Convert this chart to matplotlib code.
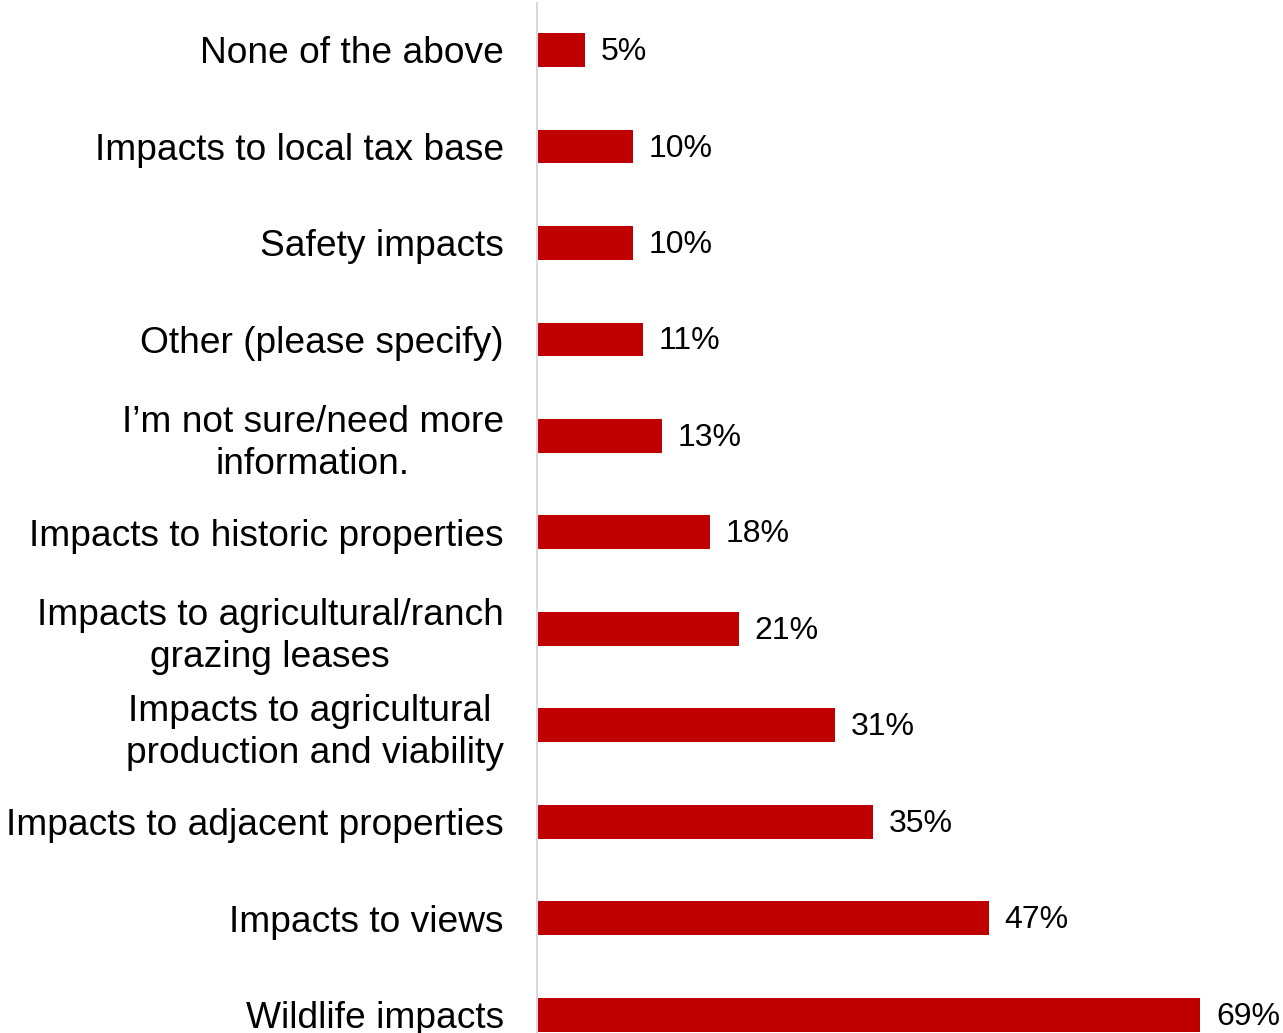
import matplotlib.pyplot as plt

plt.rcParams["font.family"] = ["Liberation Sans", "DejaVu Sans"]

# Responses, listed top to bottom
categories = [
    "None of the above",
    "Impacts to local tax base",
    "Safety impacts",
    "Other (please specify)",
    "I\u2019m not sure/need more\ninformation.",
    "Impacts to historic properties",
    "Impacts to agricultural/ranch\ngrazing leases",
    "Impacts to agricultural \nproduction and viability",
    "Impacts to adjacent properties",
    "Impacts to views",
    "Wildlife impacts",
]
shares = [5, 10, 10, 11, 13, 18, 21, 31, 35, 47, 69]

BAR_COLOR = "#C00000"
LABEL_SIZE = 26.7
VALUE_SIZE = 23

fig = plt.figure(figsize=(12.83, 10.33), dpi=100)
ax = fig.add_axes([537 / 1283, 0, 746 / 1283, 1 - 3 / 1033])

pos = list(range(len(categories)))
ax.barh(pos, shares, height=0.35, color=BAR_COLOR)

for y, v in zip(pos, shares):
    ax.annotate(f"{v}%", (v, y), xytext=(11.5, -1.5), textcoords="offset points",
                ha="left", va="center", fontsize=VALUE_SIZE, color="black")

ax.set_xlim(0, 69 / 663 * 746)
ax.set_ylim(10.19, -0.487)

ax.set_yticks(pos)
ax.set_yticklabels(categories, fontsize=LABEL_SIZE, multialignment="center",
                   linespacing=1.25)
ax.tick_params(axis="y", length=0, pad=24)
ax.set_xticks([])

for side in ("top", "right", "bottom"):
    ax.spines[side].set_visible(False)
ax.spines["left"].set_color("#D9D9D9")
ax.spines["left"].set_linewidth(1.5)

fig.savefig("out.png", dpi=100)
